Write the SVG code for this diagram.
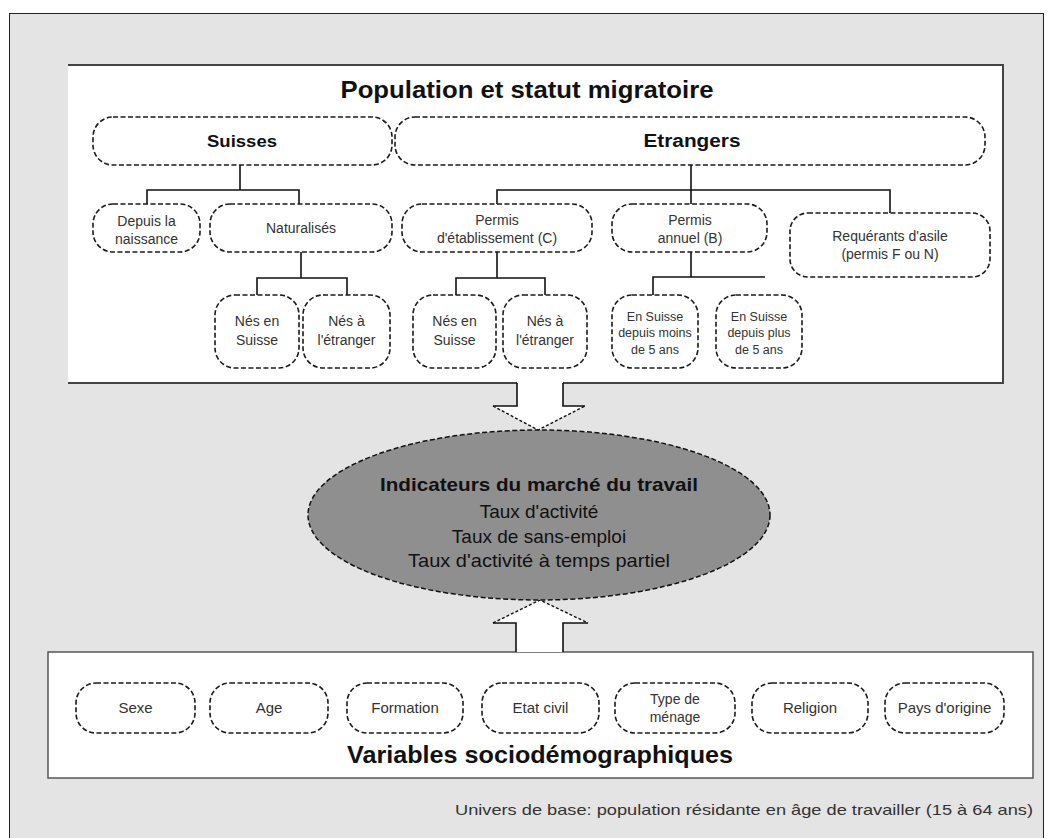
<svg xmlns="http://www.w3.org/2000/svg" width="1053" height="838" viewBox="0 0 1053 838">
<style>
.node{fill:#fff;stroke:#1a1a1a;stroke-width:1.6;stroke-dasharray:5 2.5}
.t{font-family:"Liberation Sans",Arial,sans-serif;font-size:14px;fill:#333;text-anchor:middle}
.s{font-size:12.5px}
.p{font-size:15px}
.e{font-size:19px;fill:#111}
.tb{font-family:"Liberation Sans",Arial,sans-serif;font-weight:bold;fill:#111;text-anchor:middle}
.conn{fill:none;stroke:#111;stroke-width:1.6}
.solid{fill:none;stroke:#111;stroke-width:1.6}
.dash{fill:none;stroke:#111;stroke-width:1.4;stroke-dasharray:3 2}
</style>
<rect x="0" y="0" width="1053" height="838" fill="#fff"/>
<rect id="frame" x="9.5" y="13.5" width="1034" height="840" fill="#e4e4e4" stroke="#222" stroke-width="1"/>

<g id="top-box">
<rect x="68" y="65" width="935" height="318" fill="#fff"/>
<path d="M68,65 H1003 V383 H563 M517,383 H68" fill="none" stroke="#444" stroke-width="2"/>
<text class="tb" x="527" y="98" font-size="23" textLength="373" lengthAdjust="spacingAndGlyphs">Population et statut migratoire</text>
</g>

<g id="bottom-box">
<rect x="48" y="652" width="985" height="126" fill="#fff" stroke="#555" stroke-width="1.5"/>
<text class="tb" x="540" y="763" font-size="24" textLength="386" lengthAdjust="spacingAndGlyphs">Variables sociodémographiques</text>
</g>

<g id="arrows">
<path d="M517,383 V406 H493 L538,430 L585,406 H563 V383 Z" fill="#fff"/>
<path class="solid" d="M517,383 V406 H493 M563,383 V406 H585"/>
<path class="dash" d="M493,406 L538,430 L585,406"/>
<path d="M516,652 V623 H493 L540,600 L588,623 H563 V652 Z" fill="#fff"/>
<path class="solid" d="M516,652 V623 H493 M563,652 V623 H588"/>
<path class="dash" d="M493,623 L540,600 L588,623"/>
</g>

<g id="connectors">
<path class="conn" d="M240,165 V190 M147,204 V190 H299 V204"/>
<path class="conn" d="M691,165 V204 M497,204 V190 H890 V213"/>
<path class="conn" d="M301,252 V278 M257,295 V278 H347 V295"/>
<path class="conn" d="M497,252 V278 M456,295 V278 H545 V295"/>
<path class="conn" d="M691,252 V277 M653,295 V277 H765"/>
</g>

<g id="suisses"><rect class="node" x="93" y="117" width="299" height="48" rx="20"/><text class="tb" x="242" y="147" font-size="17" textLength="70" lengthAdjust="spacingAndGlyphs">Suisses</text></g>
<g id="etrangers"><rect class="node" x="395" y="117" width="590" height="48" rx="20"/><text class="tb" x="692" y="147" font-size="18" textLength="97" lengthAdjust="spacingAndGlyphs">Etrangers</text></g>

<g id="depuis-naissance"><rect class="node" x="93" y="204" width="107" height="48" rx="20"/><text class="t" x="146.5" y="226">Depuis la</text><text class="t" x="146.5" y="244">naissance</text></g>
<g id="naturalises"><rect class="node" x="210" y="204" width="182" height="48" rx="20"/><text class="t" x="301" y="233">Naturalisés</text></g>
<g id="permis-c"><rect class="node" x="402" y="204" width="190" height="48" rx="20"/><text class="t" x="497" y="225">Permis</text><text class="t" x="497" y="243">d'établissement (C)</text></g>
<g id="permis-b"><rect class="node" x="612" y="204" width="155" height="48" rx="20"/><text class="t" x="690" y="225">Permis</text><text class="t" x="690" y="243">annuel (B)</text></g>
<g id="requerants"><rect class="node" x="790" y="213" width="200" height="64" rx="18"/><text class="t" x="890" y="241">Requérants d'asile</text><text class="t" x="890" y="259">(permis F ou N)</text></g>

<g id="nat-nes-suisse"><rect class="node" x="215" y="295" width="84" height="73" rx="20"/><text class="t" x="257" y="326">Nés en</text><text class="t" x="257" y="345">Suisse</text></g>
<g id="nat-nes-etranger"><rect class="node" x="303" y="295" width="87" height="73" rx="20"/><text class="t" x="346.5" y="326">Nés à</text><text class="t" x="346.5" y="345">l'étranger</text></g>
<g id="c-nes-suisse"><rect class="node" x="413" y="295" width="83" height="73" rx="20"/><text class="t" x="454.5" y="326">Nés en</text><text class="t" x="454.5" y="345">Suisse</text></g>
<g id="c-nes-etranger"><rect class="node" x="503" y="295" width="84" height="73" rx="20"/><text class="t" x="545" y="326">Nés à</text><text class="t" x="545" y="345">l'étranger</text></g>
<g id="b-moins-5"><rect class="node" x="612" y="295" width="86" height="73" rx="20"/><text class="t s" x="655" y="321">En Suisse</text><text class="t s" x="655" y="337">depuis moins</text><text class="t s" x="655" y="354">de 5 ans</text></g>
<g id="b-plus-5"><rect class="node" x="716" y="295" width="86" height="73" rx="20"/><text class="t s" x="759" y="321">En Suisse</text><text class="t s" x="759" y="337">depuis plus</text><text class="t s" x="759" y="354">de 5 ans</text></g>

<g id="indicateurs">
<ellipse cx="539" cy="515" rx="231" ry="85" fill="#8f8f8f" stroke="#111" stroke-width="1.5" stroke-dasharray="5 2.5"/>
<text class="tb" x="539" y="491" font-size="19" textLength="318" lengthAdjust="spacingAndGlyphs">Indicateurs du marché du travail</text>
<text class="t e" x="539" y="518">Taux d'activité</text>
<text class="t e" x="539" y="543">Taux de sans-emploi</text>
<text class="t e" x="539" y="567" textLength="262" lengthAdjust="spacingAndGlyphs">Taux d'activité à temps partiel</text>
</g>

<g id="sexe"><rect class="node" x="76" y="683" width="119" height="50" rx="20"/><text class="t p" x="135.5" y="713">Sexe</text></g>
<g id="age"><rect class="node" x="210" y="683" width="118" height="50" rx="20"/><text class="t p" x="269" y="713">Age</text></g>
<g id="formation"><rect class="node" x="347" y="683" width="116" height="50" rx="20"/><text class="t p" x="405" y="713">Formation</text></g>
<g id="etat-civil"><rect class="node" x="482" y="683" width="117" height="50" rx="20"/><text class="t p" x="540.5" y="713">Etat civil</text></g>
<g id="type-menage"><rect class="node" x="615" y="683" width="120" height="50" rx="20"/><text class="t" x="675" y="704">Type de</text><text class="t" x="675" y="722">ménage</text></g>
<g id="religion"><rect class="node" x="752" y="683" width="116" height="50" rx="20"/><text class="t p" x="810" y="713">Religion</text></g>
<g id="pays-origine"><rect class="node" x="885" y="683" width="119" height="50" rx="20"/><text class="t p" x="944.5" y="713">Pays d'origine</text></g>

<text class="t" x="1033" y="815" style="text-anchor:end;font-size:14.5px" textLength="578" lengthAdjust="spacingAndGlyphs">Univers de base: population résidante en âge de travailler (15 à 64 ans)</text>
</svg>
